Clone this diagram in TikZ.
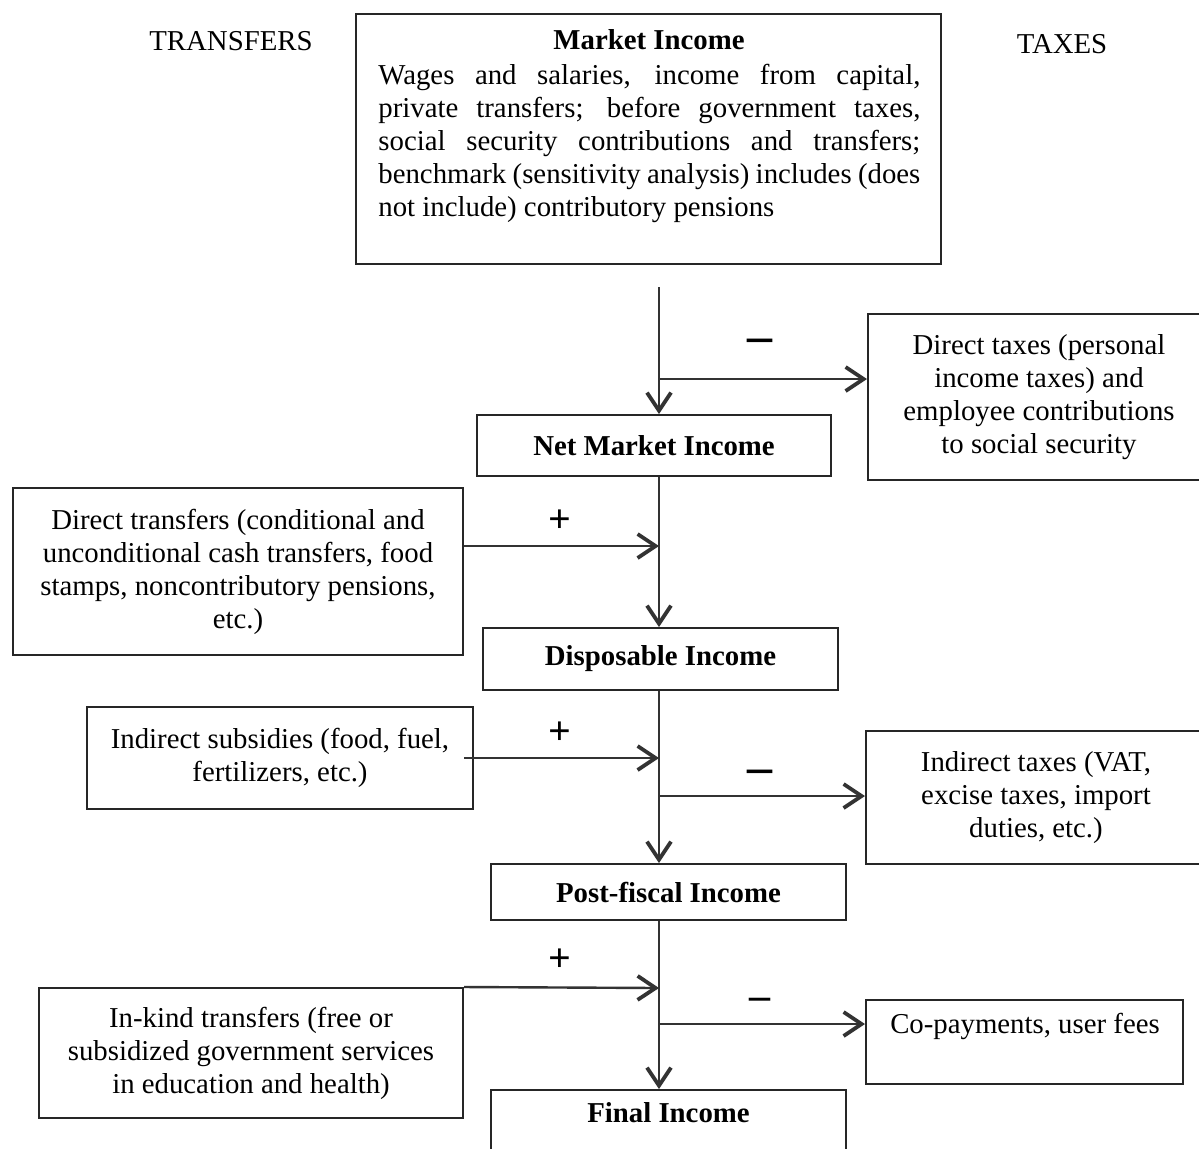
\documentclass[tikz,border=0pt]{standalone}
\usepackage{fontspec}
\setmainfont{Liberation Serif}
\usetikzlibrary{arrows.meta}
\setlength{\parindent}{0pt}
\begin{document}
\begin{tikzpicture}[x=0.5pt,y=-0.5pt,
  box/.style={draw=black!85, line width=1pt, inner sep=0pt, align=center,
    font=\fontsize{14.4}{16.5}\selectfont},
  txt/.style={inner sep=0pt, font=\fontsize{14.4}{16.5}\selectfont},
  flow/.style={draw=black!80, line width=1.2pt,
    -{Straight Barb[length=9pt,width=12pt,line width=1.9pt]}},
  plussign/.style={inner sep=0pt, font=\fontsize{20}{20}\selectfont\bfseries},
  minussign/.style={inner sep=0pt, font=\fontsize{25}{25}\selectfont\bfseries}]
\useasboundingbox (0,0) rectangle (1199,1148);
\fill[white] (0,0) rectangle (1199,1148);

% headings
\node[txt, anchor=base] (transfers) at (231,50) {TRANSFERS};
\node[txt, anchor=base] (taxes) at (1062,53) {TAXES};

% market income box
\node[box, minimum width=292.5pt, minimum height=125pt] (market) at (648.5,139) {};
\node[txt, font=\fontsize{14.4}{16.5}\selectfont\bfseries, anchor=base] (mtitle) at (649,49) {Market Income};
\node[txt, text width=271pt, align=justify, anchor=north west] (mbody) at (378,64)
  {Wages and salaries, income from capital,\linebreak
   private transfers; before government taxes,\linebreak
   social security contributions and transfers;\linebreak
   benchmark (sensitivity analysis) includes (does\linebreak
   not include) contributory pensions};

% boxes
\node[box, minimum width=171pt, minimum height=83pt] (dtax) at (1039,397)
  {Direct taxes (personal\\income taxes) and\\employee contributions\\to social security};
\node[box, font=\fontsize{14.4}{16.5}\selectfont\bfseries, minimum width=177pt, minimum height=30.5pt] (net) at (654,445.5) {Net Market Income};
\node[box, minimum width=225pt, minimum height=83.5pt] (dtrans) at (238,571.5)
  {Direct transfers (conditional and\\unconditional cash transfers, food\\stamps, noncontributory pensions,\\etc.)};
\node[box, font=\fontsize{14.4}{16.5}\selectfont\bfseries, minimum width=177.5pt, minimum height=31pt] (disp) at (660.5,659) {Disposable Income};
\node[box, minimum width=193pt, minimum height=51pt] (subs) at (280,758)
  {Indirect subsidies (food, fuel,\\fertilizers, etc.)};
\node[box, minimum width=170pt, minimum height=66.5pt] (itax) at (1036,797.5)
  {Indirect taxes (VAT,\\excise taxes, import\\duties, etc.)};
\node[box, font=\fontsize{14.4}{16.5}\selectfont\bfseries, minimum width=177.5pt, minimum height=28pt] (post) at (668.5,892) {Post-fiscal Income};
\node[box, minimum width=212pt, minimum height=65pt] (inkind) at (251,1053)
  {In-kind transfers (free or\\subsidized government services\\in education and health)};
\node[box, minimum width=158.5pt, minimum height=42pt] (copay) at (1024.5,1042) {};
\node[txt, anchor=base] (copaytxt) at (1025,1033) {Co-payments, user fees};
\node[box, minimum width=177.5pt, minimum height=37.5pt] (final) at (668.5,1127.5) {};
\node[txt, font=\fontsize{14.4}{16.5}\selectfont\bfseries, anchor=base] (finaltxt) at (668.5,1122) {Final Income};

% trunk coordinates
\coordinate (t0) at (659,287);
\coordinate (j1) at (659,379);
\coordinate (j2) at (659,546);
\coordinate (j3) at (659,758);
\coordinate (j4) at (659,796);
\coordinate (j5) at (659,988);
\coordinate (j6) at (659,1024);

% trunk arrows
\draw[flow] (t0) -- (t0 |- net.north);
\draw[flow] (t0 |- net.south) -- (t0 |- disp.north);
\draw[flow] (t0 |- disp.south) -- (t0 |- post.north);
\draw[flow] (t0 |- post.south) -- (t0 |- final.north);

% branches
\draw[flow] (j1) -- (j1 -| dtax.west);
\draw[flow] (j2 -| dtrans.east) -- (j2);
\draw[flow] ([xshift=-5pt]subs.east) -- (j3);
\draw[flow] (j4) -- (j4 -| itax.west);
\draw[flow] (inkind.north east) -- (j5);
\draw[flow] (j6) -- (j6 -| copay.west);

% signs
\node[minussign] (m1) at (760,346) {–};
\node[plussign] (p1) at (560,521) {+};
\node[plussign] (p2) at (560,733) {+};
\node[minussign] (m2) at (760,777) {–};
\node[plussign] (p3) at (560,960) {+};
\node[minussign, font=\fontsize{21}{21}\selectfont\bfseries] (m3) at (760,1004) {–};
\end{tikzpicture}
\end{document}
